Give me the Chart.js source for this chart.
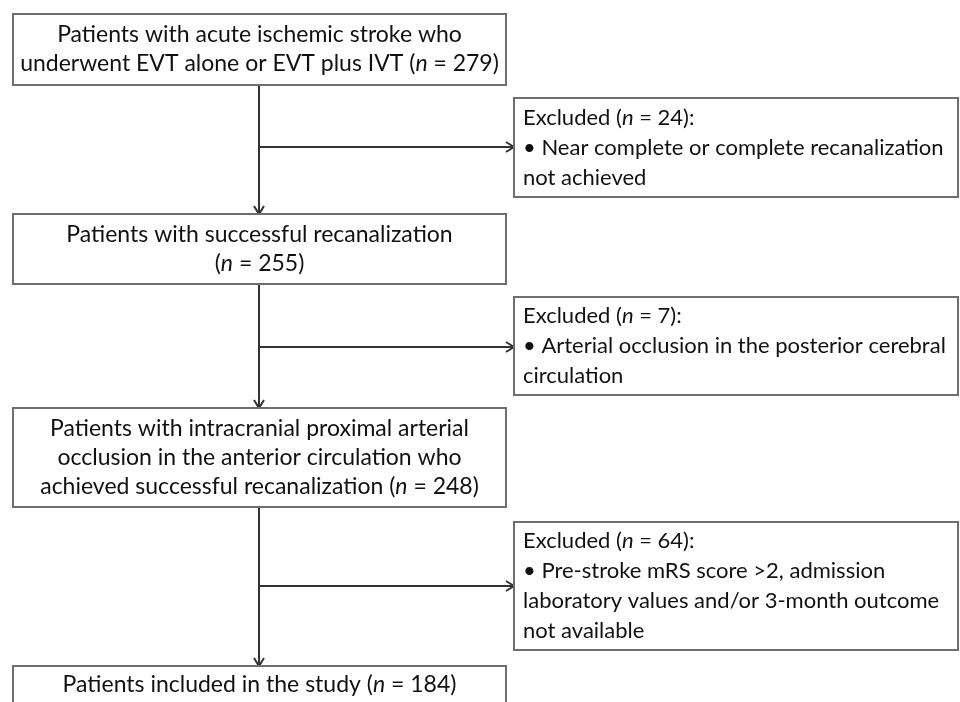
<!DOCTYPE html>
<html>
<head>
<meta charset="utf-8">
<script src="https://cdn.jsdelivr.net/npm/chart.js@4.4.1/dist/chart.umd.min.js"></script>
<style>
  html, body { margin: 0; padding: 0; background: #fff; }
  canvas { display: block; }
</style>
</head>
<body>
<canvas id="flow" width="960" height="702"></canvas>
<script>
// flow data: stages kept, counts, exclusions
const stageText = [
  "Patients with acute ischemic stroke who\nunderwent EVT alone or EVT plus IVT (n = {n})",
  "Patients with successful recanalization\n(n = {n})",
  "Patients with intracranial proximal arterial\nocclusion in the anterior circulation who\nachieved successful recanalization (n = {n})",
  "Patients included in the study (n = {n})"
];
const stageCounts = [279, 255, 248, 184];
const excludedCounts = [24, 7, 64];
const excludedReasons = [
  "• Near complete or complete recanalization\nnot achieved",
  "• Arterial occlusion in the posterior cerebral\ncirculation",
  "• Pre-stroke mRS score >2, admission\nlaboratory values and/or 3-month outcome\nnot available"
];

// layout (canvas units)
const mainLeft = 13, mainRight = 506, mainX = 259;
const stageTop = [14, 214, 408, 666];
const stageBottom = [85, 284, 507, 704];
const exLeft = 514, exRight = 958;
const exTop = [98, 297, 522];
const exBottom = [197, 395, 650];
const arrowY = [147, 347, 586];

const FONT = "Lato, 'Open Sans', sans-serif";

const connectors = [];
stageCounts.slice(1).forEach((c, i) => {
  connectors.push({
    data: [{ x: mainX, y: stageBottom[i] }, { x: mainX, y: stageTop[i + 1] }],
    showLine: true, pointRadius: 0, borderColor: "#333", borderWidth: 2
  });
});
excludedCounts.forEach((c, i) => {
  connectors.push({
    data: [{ x: mainX, y: arrowY[i] }, { x: exLeft, y: arrowY[i] }],
    showLine: true, pointRadius: 0, borderColor: "#333", borderWidth: 2
  });
});

// draw a line where the "n" before " =" is italic
function drawRich(ctx, line, x, y, align, size) {
  const parts = line.split(/\bn(?= =)/);
  const segs = [];
  parts.forEach((p, i) => {
    if (i > 0) segs.push({ t: "n", it: true });
    if (p) segs.push({ t: p, it: false });
  });
  let total = 0;
  segs.forEach(s => {
    ctx.font = (s.it ? "italic " : "") + size + "px " + FONT;
    s.w = ctx.measureText(s.t).width;
    total += s.w;
  });
  let cx = align === "center" ? x - total / 2 : x;
  ctx.textAlign = "left";
  ctx.textBaseline = "middle";
  segs.forEach(s => {
    ctx.font = (s.it ? "italic " : "") + size + "px " + FONT;
    ctx.fillText(s.t, cx, y);
    cx += s.w;
  });
}

const flowPlugin = {
  id: "flowBoxes",
  afterDatasetsDraw(chart) {
    const ctx = chart.ctx;
    const xs = chart.scales.x, ys = chart.scales.y;
    const px = v => xs.getPixelForValue(v);
    const py = v => ys.getPixelForValue(v);
    ctx.save();

    // arrow heads
    ctx.strokeStyle = "#333";
    ctx.lineWidth = 2;
    stageCounts.slice(1).forEach((c, i) => {
      const tx = px(mainX), ty = py(stageTop[i + 1]);
      ctx.beginPath();
      ctx.moveTo(tx - 5, ty - 8);
      ctx.lineTo(tx, ty);
      ctx.lineTo(tx + 5, ty - 8);
      ctx.stroke();
    });
    excludedCounts.forEach((c, i) => {
      const tx = px(exLeft), ty = py(arrowY[i]);
      ctx.beginPath();
      ctx.moveTo(tx - 8, ty - 5);
      ctx.lineTo(tx, ty);
      ctx.lineTo(tx - 8, ty + 5);
      ctx.stroke();
    });

    // stage boxes
    const lh = 29;
    stageText.forEach((t, i) => {
      const x0 = px(mainLeft), x1 = px(mainRight);
      const y0 = py(stageTop[i]), y1 = py(stageBottom[i]);
      ctx.fillStyle = "#fff";
      ctx.fillRect(x0, y0, x1 - x0, y1 - y0);
      ctx.strokeStyle = "#6e6e6e";
      ctx.lineWidth = 2;
      ctx.strokeRect(x0, y0, x1 - x0, y1 - y0);
      const lines = t.replace("{n}", stageCounts[i]).split("\n");
      const mid = (y0 + y1) / 2;
      ctx.fillStyle = "#111";
      lines.forEach((l, k) => {
        drawRich(ctx, l, (x0 + x1) / 2, mid + (k - (lines.length - 1) / 2) * lh, "center", 23);
      });
    });

    // exclusion boxes
    const lh2 = 30;
    excludedCounts.forEach((c, i) => {
      const x0 = px(exLeft), x1 = px(exRight);
      const y0 = py(exTop[i]), y1 = py(exBottom[i]);
      ctx.fillStyle = "#fff";
      ctx.fillRect(x0, y0, x1 - x0, y1 - y0);
      ctx.strokeStyle = "#6e6e6e";
      ctx.lineWidth = 2;
      ctx.strokeRect(x0, y0, x1 - x0, y1 - y0);
      const lines = ["Excluded (n = " + c + "):"].concat(excludedReasons[i].split("\n"));
      const mid = (y0 + y1) / 2;
      ctx.fillStyle = "#111";
      lines.forEach((l, k) => {
        drawRich(ctx, l, x0 + 9, mid + (k - (lines.length - 1) / 2) * lh2, "left", 22);
      });
    });

    ctx.restore();
  }
};

new Chart(document.getElementById("flow").getContext("2d"), {
  type: "scatter",
  data: { datasets: connectors },
  options: {
    responsive: false,
    animation: false,
    events: [],
    layout: { padding: 0 },
    plugins: { legend: { display: false }, tooltip: { enabled: false } },
    scales: {
      x: { type: "linear", min: 0, max: 960, display: false },
      y: { type: "linear", min: 0, max: 702, reverse: true, display: false }
    }
  },
  plugins: [flowPlugin]
});
</script>
</body>
</html>
